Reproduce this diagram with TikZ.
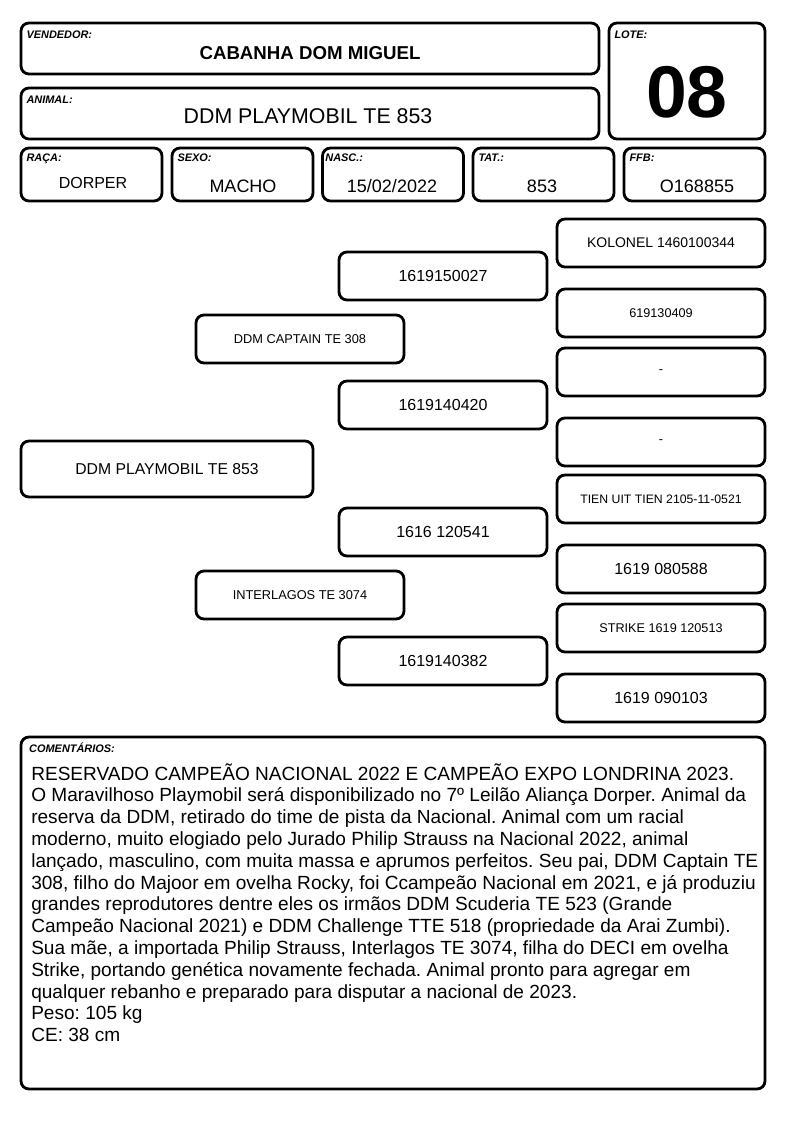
\documentclass[tikz,border=0pt]{standalone}
\usepackage{fontspec}
\setmainfont{Liberation Sans}
\usetikzlibrary{positioning}
\frenchspacing

\begin{document}
\begin{tikzpicture}[x=0.75pt, y=-0.75pt,
  box/.style={draw, line width=2.1pt, rounded corners=6pt, inner sep=0pt},
  lbl/.style={anchor=north west, inner sep=0pt, font=\bfseries\itshape\fontsize{8.2}{9}\selectfont},
  val/.style={inner sep=0pt, font=\fontsize{13.5}{16}\selectfont},
  ped/.style={box, minimum width=156pt, minimum height=36pt},
  sml/.style={font=\fontsize{9.5}{11}\selectfont},
  mid/.style={font=\fontsize{12}{14}\selectfont}]
\useasboundingbox (0,0) rectangle (794,1123);
% header
\node[box, minimum width=433.5pt, minimum height=38.25pt] (vend) at (310,48.5) {};
\node[box, minimum width=433.5pt, minimum height=38.25pt] (anim) at (310,113.5) {};
\node[box, minimum width=117pt, minimum height=87pt] (lote) at (687,81) {};
\node[lbl] at ([shift={(5pt,-6.5pt)}]vend.north west) {VENDEDOR:};
\node[lbl] at ([shift={(5pt,-6.5pt)}]anim.north west) {ANIMAL:};
\node[lbl] at ([shift={(5pt,-6.5pt)}]lote.north west) {LOTE:};
\node[val, font=\bfseries\fontsize{14}{16}\selectfont] at (310,53) {CABANHA DOM MIGUEL};
\node[val, font=\fontsize{16}{18}\selectfont] at (308,116) {DDM PLAYMOBIL TE 853};
\node[val, font=\bfseries\fontsize{55}{60}\selectfont] at (687,92) {08};
\node[box, minimum width=105.75pt, minimum height=39.75pt] (raca) at (91.5,174.5) {};
\node[box, minimum width=105.75pt, minimum height=39.75pt] (sexo) at (242.5,174.5) {};
\node[box, minimum width=105.75pt, minimum height=39.75pt] (nasc) at (393,174.5) {};
\node[box, minimum width=105.75pt, minimum height=39.75pt] (tat) at (543.5,174.5) {};
\node[box, minimum width=105.75pt, minimum height=39.75pt] (ffb) at (694.5,174.5) {};
\node[lbl] at ([shift={(5pt,-5.5pt)}]raca.north west) {RAÇA:};
\node[lbl] at ([shift={(5pt,-5.5pt)}]sexo.north west) {SEXO:};
\node[lbl] at ([shift={(3pt,-5.5pt)}]nasc.north west) {NASC.:};
\node[lbl] at ([shift={(5pt,-5.5pt)}]tat.north west) {TAT.:};
\node[lbl] at ([shift={(5pt,-5.5pt)}]ffb.north west) {FFB:};
\node[val, font=\fontsize{12}{14}\selectfont] at (93,183) {DORPER};
\node[val] at (243,186) {MACHO};
\node[val] at (392,186) {15/02/2022};
\node[val] at (542,186) {853};
\node[val] at (697,186) {O168855};
% pedigree
\node[box, minimum width=219pt, minimum height=42pt, font=\fontsize{11.8}{14}\selectfont] (self) at (167,469) {DDM PLAYMOBIL TE 853};
\node[ped, font=\fontsize{9.6}{12}\selectfont] (sire) at (300,339) {DDM CAPTAIN TE 308};
\node[ped, font=\fontsize{9.6}{12}\selectfont] (dam) at (300,595) {INTERLAGOS TE 3074};
\node[ped, mid] (ss) at (443,276) {1619150027};
\node[ped, mid] (sd) at (443,405) {1619140420};
\node[ped, mid] (ds) at (443,532) {1616 120541};
\node[ped, mid] (dd) at (443,661) {1619140382};
\node[ped, font=\fontsize{10.5}{12}\selectfont] (sss) at (661,243) {KOLONEL 1460100344};
\node[ped, sml] (ssd) at (661,313) {619130409};
\node[ped, sml] (sds) at (661,372) {-};
\node[ped, sml] (sdd) at (661,442) {-};
\node[ped, font=\fontsize{9.2}{11}\selectfont] (dss) at (661,499) {TIEN UIT TIEN 2105-11-0521};
\node[ped, mid] (dsd) at (661,569) {1619 080588};
\node[ped, sml] (dds) at (661,628) {STRIKE 1619 120513};
\node[ped, mid] (ddd) at (661,698) {1619 090103};
% comments
\node[box, minimum width=558pt, minimum height=264pt] (com) at (393,913) {};
\node[lbl] at ([shift={(7pt,-5pt)}]com.north west) {COMENTÁRIOS:};
\node[anchor=north west, inner sep=0pt, align=left, font=\fontsize{14.3}{16.35}\selectfont] (txt) at (31,763) {%
RESERVADO CAMPEÃO NACIONAL 2022 E CAMPEÃO EXPO LONDRINA 2023.\\
O Maravilhoso Playmobil será disponibilizado no 7º Leilão Aliança Dorper. Animal da\\
reserva da DDM, retirado do time de pista da Nacional. Animal com um racial\\
moderno, muito elogiado pelo Jurado Philip Strauss na Nacional 2022, animal\\
lançado, masculino, com muita massa e aprumos perfeitos. Seu pai, DDM Captain TE\\
308, filho do Majoor em ovelha Rocky, foi Ccampeão Nacional em 2021, e já produziu\\
grandes reprodutores dentre eles os irmãos DDM Scuderia TE 523 (Grande\\
Campeão Nacional 2021) e DDM Challenge TTE 518 (propriedade da Arai Zumbi).\\
Sua mãe, a importada Philip Strauss, Interlagos TE 3074, filha do DECI em ovelha\\
Strike, portando genética novamente fechada. Animal pronto para agregar em\\
qualquer rebanho e preparado para disputar a nacional de 2023.\\
Peso: 105 kg\\
CE: 38 cm};
\end{tikzpicture}
\end{document}
